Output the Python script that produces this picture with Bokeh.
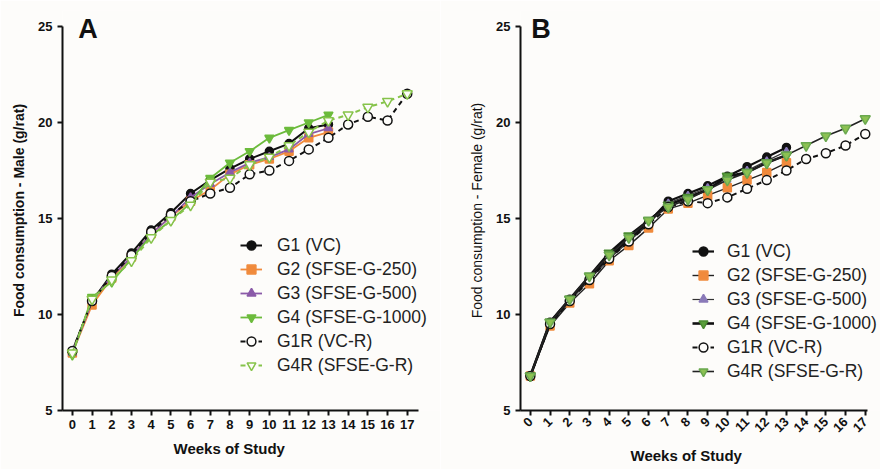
import math
from bokeh.plotting import figure
from bokeh.layouts import row
from bokeh.models import Legend, LegendItem, Label, FixedTicker, Range1d, Title
from bokeh.embed import file_html
from bokeh.resources import INLINE

weeks13 = list(range(0, 14))
weeks17 = list(range(0, 18))
tick_labels = [str(w) for w in weeks17]

# Panel A - Male
male_g1 = [8.1, 10.7, 12.1, 13.2, 14.4, 15.3, 16.3, 17.0, 17.6, 18.1, 18.5, 18.9, 19.7, 19.9]
male_g2 = [8.0, 10.5, 11.9, 13.0, 14.2, 15.1, 15.9, 16.5, 17.3, 17.8, 18.1, 18.5, 19.2, 19.5]
male_g3 = [8.0, 10.7, 12.0, 13.0, 14.2, 15.1, 16.1, 16.8, 17.4, 17.9, 18.2, 18.6, 19.4, 19.7]
male_g4 = [7.9, 10.9, 11.7, 12.9, 14.1, 14.9, 15.8, 17.1, 17.9, 18.5, 19.2, 19.6, 20.0, 20.4]
male_g1r = [8.1, 10.7, 12.0, 13.1, 14.3, 15.2, 15.9, 16.3, 16.6, 17.3, 17.5, 18.0, 18.6, 19.2, 19.9, 20.3, 20.1, 21.5]
male_g4r = [8.0, 10.8, 11.8, 12.8, 14.0, 14.9, 15.7, 16.9, 17.1, 17.8, 18.2, 18.8, 19.5, 20.1, 20.4, 20.8, 21.1, 21.5]

# Panel B - Female
fem_g1 = [6.8, 9.6, 10.8, 11.9, 13.0, 13.9, 14.8, 15.9, 16.3, 16.7, 17.2, 17.7, 18.2, 18.7]
fem_g2 = [6.8, 9.4, 10.6, 11.6, 12.8, 13.6, 14.5, 15.5, 15.8, 16.2, 16.6, 17.0, 17.4, 17.9]
fem_g3 = [6.8, 9.5, 10.7, 11.8, 12.9, 13.8, 14.7, 15.8, 16.2, 16.6, 17.0, 17.5, 18.0, 18.5]
fem_g4 = [6.8, 9.6, 10.8, 12.0, 13.2, 14.1, 14.9, 15.7, 16.1, 16.5, 17.2, 17.4, 17.9, 18.3]
fem_g1r = [6.8, 9.5, 10.7, 11.8, 12.9, 13.8, 14.7, 15.6, 15.9, 15.8, 16.1, 16.55, 17.0, 17.5, 18.1, 18.4, 18.8, 19.4]
fem_g4r = [6.8, 9.6, 10.8, 12.0, 13.1, 14.0, 14.9, 15.6, 16.0, 16.5, 17.0, 17.4, 17.9, 18.3, 18.8, 19.3, 19.7, 20.2]

labels_a = ["G1 (VC)", "G2 (SFSE-G-250)", "G3 (SFSE-G-500)", "G4 (SFSE-G-1000)", "G1R (VC-R)", "G4R (SFSE-G-R)"]
labels_b = ["G1 (VC)", "G2 (SFSE-G-250)", "G3 (SFSE-G-500)", "G4 (SFSE-G-1000)", "G1R (VC-R)", "G4R (SFSE-G-R)"]

BG = "#fdfcfa"
FONT = "Liberation Sans"
PX_PER_Y = 19.2
PX_PER_X = 19.7


def base_fig(frame_left, frame_w, x_axis_end, ylabel, ylabel_style, rotate, xlabel_offset, xlabel_standoff):
    xmax = -0.5 + frame_w / PX_PER_X
    ymax = 25 + 16 / PX_PER_Y
    p = figure(width=frame_left + frame_w, height=469,
               x_range=Range1d(-0.5, xmax), y_range=Range1d(5, ymax),
               output_backend="svg", toolbar_location=None,
               min_border_left=frame_left, min_border_right=0,
               min_border_top=10, min_border_bottom=59)
    p.background_fill_color = BG
    p.border_fill_color = BG
    p.outline_line_color = None
    p.grid.visible = False
    for ax in (p.xaxis[0], p.yaxis[0]):
        ax.axis_line_width = 2
        ax.axis_line_color = "#111111"
        ax.major_tick_line_width = 2
        ax.major_tick_line_color = "#111111"
        ax.major_tick_out = 5
        ax.major_tick_in = 0
        ax.minor_tick_line_color = None
        ax.major_label_text_font = FONT
        ax.major_label_text_font_style = "bold"
        ax.major_label_text_font_size = "13px"
        ax.major_label_text_color = "#111111"
        ax.axis_label_text_font = FONT
        ax.axis_label_text_color = "#111111"
    p.yaxis.bounds = (5, 25)
    p.xaxis.bounds = (-0.5, x_axis_end)
    p.yaxis.ticker = FixedTicker(ticks=[5, 10, 15, 20, 25])
    p.xaxis.ticker = FixedTicker(ticks=weeks17)
    p.xaxis.major_label_overrides = {w: t for w, t in zip(weeks17, tick_labels)}
    p.yaxis.axis_label = ylabel
    p.yaxis.axis_label_text_font_style = ylabel_style
    p.yaxis.axis_label_text_font_size = "14px"
    p.yaxis.axis_label_standoff = 8
    p.xaxis.major_label_standoff = 4
    if rotate:
        p.xaxis.major_label_orientation = math.pi / 4
    p.add_layout(Title(text="Weeks of Study", align="left", offset=xlabel_offset,
                       text_font=FONT, text_font_style="bold", text_font_size="15px",
                       text_color="#111111", standoff=xlabel_standoff), "below")
    return p


def add_series(p, x, y, line_color, line_width, dash, marker, size, fill, mline):
    r1 = p.line(x, y, line_color=line_color, line_width=line_width, line_dash=dash)
    r2 = p.scatter(x, y, marker=marker, size=size, fill_color=fill, line_color=mline, line_width=1.5)
    return [r1, r2]


# Panel A
pa = base_fig(62, 378, 17.55, "Food consumption - Male (g/rat)", "bold", False, 111, 13)
ra = []
ra.append(add_series(pa, weeks13, male_g1, "#111111", 2, "solid", "circle", 8, "#111111", "#111111"))
ra.append(add_series(pa, weeks13, male_g2, "#f08a3c", 1.8, "solid", "square", 8, "#f08a3c", "#f08a3c"))
ra.append(add_series(pa, weeks13, male_g3, "#8a5aa8", 1.8, "solid", "triangle", 8, "#8a5aa8", "#8a5aa8"))
ra.append(add_series(pa, weeks13, male_g4, "#6cbb3c", 1.8, "solid", "inverted_triangle", 9, "#6cbb3c", "#6cbb3c"))
ra.append(add_series(pa, weeks17, male_g1r, "#111111", 2, "5 4", "circle", 9, BG, "#111111"))
ra.append(add_series(pa, weeks17, male_g4r, "#86c34a", 2, "5 4", "inverted_triangle", 10, BG, "#86c34a"))
leg_a = Legend(items=[LegendItem(label=l, renderers=r) for l, r in zip(labels_a, ra)],
               location=(178, 33), label_text_font=FONT, label_text_font_size="17.5px",
               label_text_color="#222222", glyph_width=22, glyph_height=24, label_height=24,
               label_standoff=15, spacing=0, padding=0, margin=0,
               background_fill_alpha=0, border_line_color=None)
pa.add_layout(leg_a)
pa.add_layout(Label(x=0.3, y=25 + 13 / PX_PER_Y, text="A", text_font=FONT, text_font_style="bold",
                    text_font_size="27px", text_baseline="top", text_color="#111111"))

# Panel B
pb = base_fig(80, 360, 17.1, "Food consumption - Female (g/rat)", "normal", True, 110, 11)
rb = []
rb.append(add_series(pb, weeks13, fem_g1, "#111111", 2.2, "solid", "circle", 8, "#111111", "#111111"))
rb.append(add_series(pb, weeks13, fem_g2, "#222222", 1.4, "solid", "square", 8, "#f08a3c", "#f08a3c"))
rb.append(add_series(pb, weeks13, fem_g3, "#333333", 1.2, "solid", "triangle", 7, "#8a7ab8", "#8a7ab8"))
rb.append(add_series(pb, weeks13, fem_g4, "#111111", 2.6, "solid", "inverted_triangle", 10, "#5a9e3a", "#4a8a30"))
rb.append(add_series(pb, weeks17, fem_g1r, "#111111", 2, "5 4", "circle", 9, BG, "#111111"))
rb.append(add_series(pb, weeks17, fem_g4r, "#222222", 1.6, "solid", "inverted_triangle", 10, "#8cc152", "#6aa84f"))
leg_b = Legend(items=[LegendItem(label=l, renderers=r) for l, r in zip(labels_b, rb)],
               location=(172, 27), label_text_font=FONT, label_text_font_size="17.5px",
               label_text_color="#222222", glyph_width=22, glyph_height=24, label_height=24,
               label_standoff=13, spacing=0, padding=0, margin=0,
               background_fill_alpha=0, border_line_color=None)
pb.add_layout(leg_b)
pb.add_layout(Label(x=0.05, y=25 + 13 / PX_PER_Y, text="B", text_font=FONT, text_font_style="bold",
                    text_font_size="27px", text_baseline="top", text_color="#111111"))

layout = row(pa, pb)
open("out.html", "w").write(file_html(layout, INLINE))
